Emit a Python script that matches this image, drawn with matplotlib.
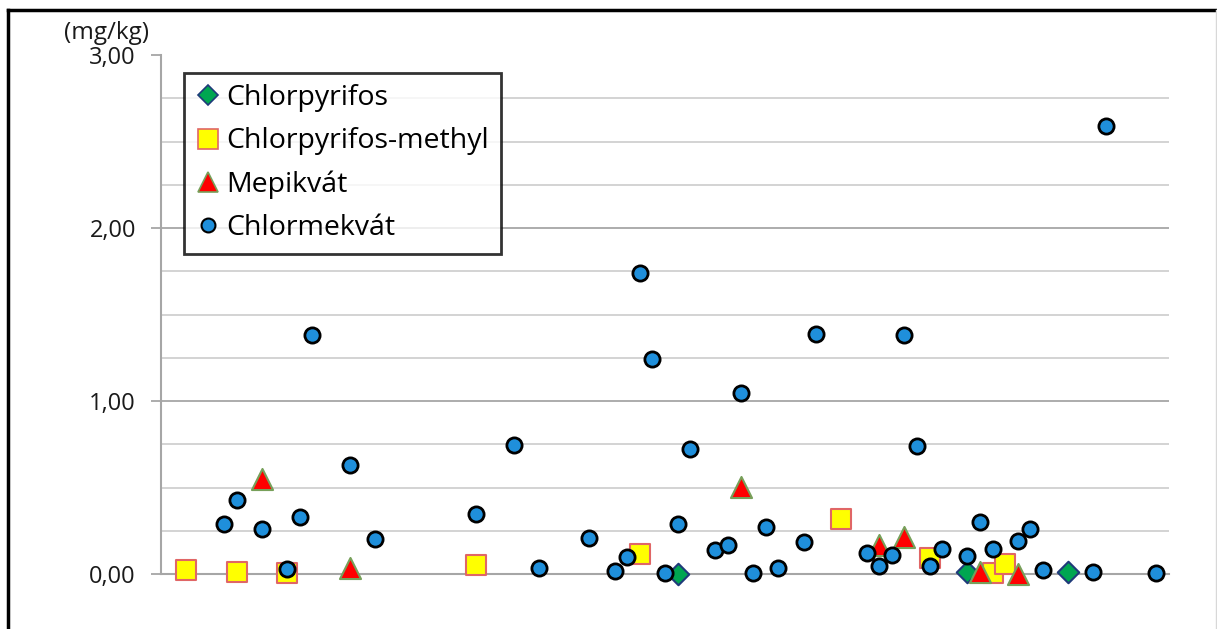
import matplotlib
matplotlib.use("Agg")
import matplotlib.pyplot as plt
from matplotlib.lines import Line2D

plt.rcParams['font.family'] = ['Open Sans', 'DejaVu Sans']

# --- data ---
cp_x = [41, 64, 72]
cp_y = [0.00, 0.01, 0.01]

cpm_x = [2, 6, 10, 25, 38, 54, 61, 66, 67]
cpm_y = [0.023, 0.012, 0.006, 0.05, 0.115, 0.32, 0.09, 0.005, 0.06]

mep_x = [8, 15, 46, 57, 59, 65, 68]
mep_y = [0.55, 0.035, 0.505, 0.17, 0.215, 0.01, 0.00]

cmq_x = [5, 6, 8, 10, 11, 12, 15, 17, 25, 28, 30, 34, 36, 37, 38, 39, 40, 41, 42,
         44, 45, 46, 47, 48, 49, 51, 52, 56, 57, 58, 59, 60, 61, 62, 64, 65, 66,
         68, 69, 70, 74, 75, 79]
cmq_y = [0.289, 0.43, 0.26, 0.03, 0.33, 1.38, 0.63, 0.20, 0.347, 0.745, 0.035,
         0.21, 0.018, 0.098, 1.74, 1.243, 0.006, 0.29, 0.725, 0.14, 0.17, 1.045,
         0.006, 0.27, 0.035, 0.185, 1.39, 0.12, 0.046, 0.11, 1.38, 0.74, 0.046,
         0.145, 0.104, 0.30, 0.145, 0.19, 0.26, 0.023, 0.012, 2.59, 0.006]

labels = ["Chlorpyrifos", "Chlorpyrifos-methyl", "Mepikvát", "Chlormekvát"]
y_ticks = [0, 1, 2, 3]
y_ticklabels = ["0,00", "1,00", "2,00", "3,00"]
unit_label = "(mg/kg)"

W, H = 1217, 629
fig = plt.figure(figsize=(W / 100, H / 100), dpi=100)
ax = fig.add_axes([161 / W, 1 - 574 / H, (1169 - 161) / W, (574 - 55) / H])

ax.set_xlim(0, 80)
ax.set_ylim(0, 3)

# gridlines
for v in [i * 0.25 for i in range(1, 12)]:
    if v % 1 == 0:
        ax.axhline(v, color='#a6a6a6', lw=1.3, zorder=0)
    else:
        ax.axhline(v, color='#d0d0d0', lw=1.3, zorder=0)
ax.axhline(0, color='#a6a6a6', lw=1.5, zorder=0.5, clip_on=False)

for s in ['top', 'right', 'bottom']:
    ax.spines[s].set_visible(False)
ax.spines['left'].set_color('#a6a6a6')
ax.spines['left'].set_linewidth(1.5)
ax.set_xticks([])
ax.set_yticks(y_ticks)
ax.set_yticklabels(y_ticklabels, fontsize=17, color='#1a1a1a')
ax.tick_params(axis='y', length=7, width=1.3, color='#a6a6a6', pad=11)

# series
ax.scatter(cp_x, cp_y, marker='D', s=120, facecolor='#00a651',
           edgecolor='#1f3a7a', linewidth=1.5, zorder=3, clip_on=False)
ax.scatter(cpm_x, cpm_y, marker='s', s=220, facecolor='#ffff00',
           edgecolor='#e06666', linewidth=1.5, zorder=4, clip_on=False)
ax.scatter(mep_x, mep_y, marker='^', s=230, facecolor='#ff0000',
           edgecolor='#77a05a', linewidth=1.5, zorder=5, clip_on=False)
ax.scatter(cmq_x, cmq_y, marker='o', s=120, facecolor='#1f8fdb',
           edgecolor='#000000', linewidth=2.0, zorder=6, clip_on=False)

# unit label
fig.text(64 / W, 1 - 33 / H, unit_label, fontsize=17.5, ha='left', va='center',
         color='#1a1a1a')

# legend
handles = [
    Line2D([], [], ls='none', marker='D', ms=10, mfc='#00a651', mec='#1f3a7a', mew=1.2),
    Line2D([], [], ls='none', marker='s', ms=14, mfc='#ffff00', mec='#e06666', mew=1.2),
    Line2D([], [], ls='none', marker='^', ms=14, mfc='#ff0000', mec='#77a05a', mew=1.2),
    Line2D([], [], ls='none', marker='o', ms=10, mfc='#1f8fdb', mec='#000000', mew=1.5),
]
leg = fig.legend(handles, labels, loc='upper left',
                 bbox_to_anchor=(184 / W, 1 - 73 / H), fontsize=20.5,
                 frameon=True, fancybox=False, handlelength=0.9,
                 handletextpad=0.2, labelspacing=0.53, borderpad=0.4,
                 borderaxespad=0)
leg.get_frame().set_edgecolor('black')
leg.get_frame().set_linewidth(2)
leg.set_zorder(10)

# outer frame
fig.add_artist(Line2D([8 / W, 8 / W], [0, 1 - 10 / H], color='black', lw=2.5,
                      transform=fig.transFigure))
fig.add_artist(Line2D([8 / W, 1], [1 - 10 / H, 1 - 10 / H], color='black', lw=2.5,
                      transform=fig.transFigure))
fig.add_artist(Line2D([1216 / W, 1216 / W], [0, 1 - 10 / H], color='#d8d8d8', lw=1,
                      transform=fig.transFigure))

fig.savefig("out.png", dpi=100)
